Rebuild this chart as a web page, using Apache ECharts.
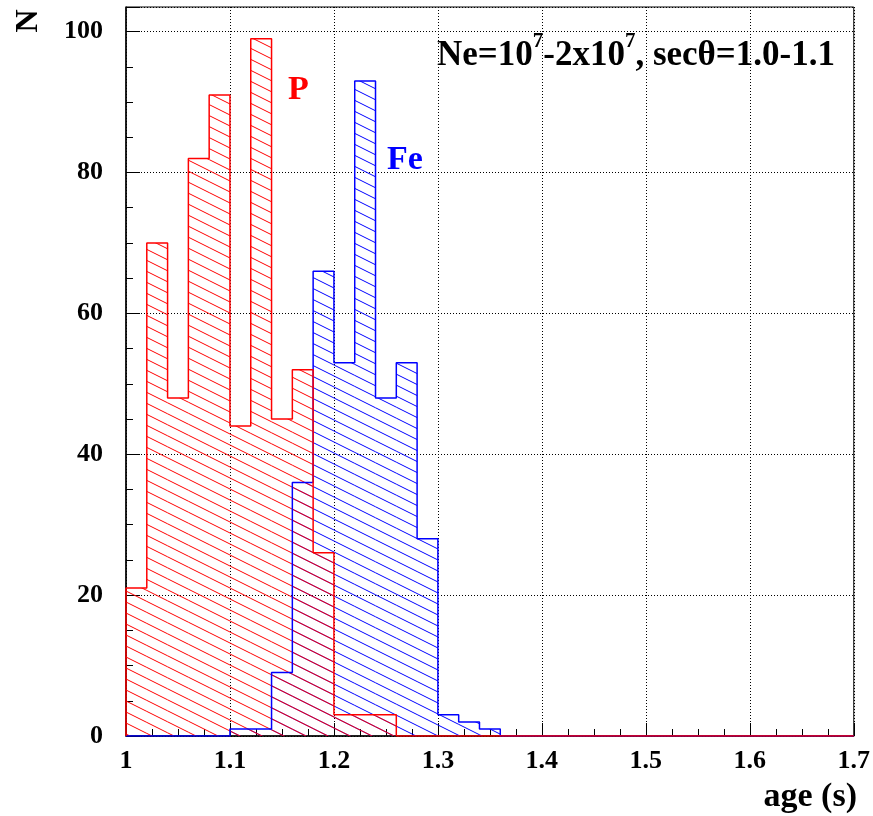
<!DOCTYPE html>
<html>
<head>
<meta charset="utf-8">
<script src="https://cdn.jsdelivr.net/npm/echarts@6/dist/echarts.min.js"></script>
<style>
  html, body { margin: 0; padding: 0; background: #fff; }
  #chart { width: 873px; height: 816px; }
</style>
</head>
<body>
<div id="chart"></div>
<script>
// Histogram binning: 35 bins of width 0.02 between age 1.0 and 1.7
const binLow = 1.0;
const binWidth = 0.02;

// Counts per bin (bins 1.00-1.02, 1.02-1.04, ...)
const protonCounts = [21, 70, 48, 82, 91, 44, 99, 45, 52, 26, 3, 3, 3, 0, 0, 0, 0, 0,
                      0, 0, 0, 0, 0, 0, 0, 0, 0, 0, 0, 0, 0, 0, 0, 0, 0];
const ironCounts   = [0, 0, 0, 0, 0, 1, 1, 9, 36, 66, 53, 93, 48, 53, 28, 3, 2, 1,
                      0, 0, 0, 0, 0, 0, 0, 0, 0, 0, 0, 0, 0, 0, 0, 0, 0];

const xTicks = [1, 1.1, 1.2, 1.3, 1.4, 1.5, 1.6, 1.7];
const yTicks = [0, 20, 40, 60, 80, 100];

const FONT = '"Liberation Serif", "Times New Roman", serif';
const RED = '#ff0000';
const BLUE = '#0000ff';

function edge(i) { return +(binLow + i * binWidth).toFixed(4); }

// Hatch fill: thin parallel lines falling to the right (slope h/w)
function hatch(color) {
  const w = 22, h = 11;
  const c = document.createElement('canvas');
  c.width = w; c.height = h;
  const g = c.getContext('2d');
  g.strokeStyle = color;
  g.lineWidth = 1;
  for (let k = -2; k <= 2; k++) {
    g.beginPath();
    g.moveTo(-w, -h + k * h);
    g.lineTo(2 * w, 2 * h + k * h);
    g.stroke();
  }
  return { image: c, repeat: 'repeat' };
}

function barItems(counts) {
  return counts.map((v, i) => [edge(i), edge(i + 1), v]);
}

// Step outline of a histogram, including the baseline after the last bin
function outline(counts) {
  const pts = [[edge(0), 0]];
  counts.forEach((v, i) => {
    pts.push([edge(i), v]);
    pts.push([edge(i + 1), v]);
  });
  pts.push([edge(counts.length), 0]);
  return pts;
}

function fillSeries(name, counts, color) {
  const pattern = hatch(color);
  return {
    name: name,
    type: 'custom',
    data: barItems(counts),
    encode: { x: [0, 1], y: 2 },
    clip: true,
    silent: true,
    renderItem: function (params, api) {
      const v = api.value(2);
      if (!v) return null;
      const p0 = api.coord([api.value(0), v]);
      const p1 = api.coord([api.value(1), 0]);
      return {
        type: 'rect',
        shape: { x: p0[0], y: p0[1], width: p1[0] - p0[0], height: p1[1] - p0[1] },
        style: { fill: pattern, stroke: null }
      };
    }
  };
}

function lineSeries(name, counts, color) {
  return {
    name: name,
    type: 'line',
    data: outline(counts),
    showSymbol: false,
    symbol: 'none',
    silent: true,
    clip: true,
    lineStyle: { color: color, width: 1.5 }
  };
}

const chart = echarts.init(document.getElementById('chart'), null, { renderer: 'canvas' });

const dotted = { color: '#000', width: 1, type: [1, 2] };

chart.setOption({
  animation: false,
  backgroundColor: '#fff',
  grid: {
    left: 126, right: 18, top: 7, bottom: 80,
    show: true, borderColor: '#000', borderWidth: 1, backgroundColor: 'transparent'
  },
  xAxis: {
    type: 'value',
    min: xTicks[0],
    max: xTicks[xTicks.length - 1],
    interval: 0.1,
    axisLine: { show: true, onZero: false, lineStyle: { color: '#000', width: 1.5 } },
    axisTick: { show: true, inside: true, length: 13, lineStyle: { color: '#000', width: 1 } },
    minorTick: { show: true, splitNumber: 4, length: 7, lineStyle: { color: '#000', width: 1 } },
    splitLine: { show: true, lineStyle: dotted },
    axisLabel: {
      margin: 12,
      color: '#000',
      fontFamily: FONT,
      fontWeight: 'bold',
      fontSize: 26,
      formatter: function (v) {
        const t = xTicks.find(x => Math.abs(x - v) < 1e-6);
        return t === undefined ? '' : String(t);
      }
    }
  },
  yAxis: [
    {
      type: 'value',
      min: 0,
      max: 103.5,
      interval: 20,
      position: 'left',
      axisLine: { show: true, onZero: false, lineStyle: { color: '#000', width: 1.5 } },
      axisTick: { show: true, inside: true, length: 14, lineStyle: { color: '#000', width: 1 } },
      splitLine: { show: true, lineStyle: dotted },
      axisLabel: {
        margin: 23,
        color: '#000',
        fontFamily: FONT,
        fontWeight: 'bold',
        fontSize: 26,
        formatter: function (v) {
          return yTicks.indexOf(v) >= 0 ? String(v) : '';
        }
      }
    },
    {
      // minor ticks every 5 counts
      type: 'value',
      min: 0,
      max: 103.5,
      interval: 5,
      position: 'left',
      offset: 0,
      axisLine: { show: false },
      axisTick: { show: true, inside: true, length: 7, lineStyle: { color: '#000', width: 1 } },
      splitLine: { show: false },
      axisLabel: { show: false }
    }
  ],
  series: [
    fillSeries('Fe', ironCounts, BLUE),
    fillSeries('P', protonCounts, RED),
    lineSeries('Fe', ironCounts, BLUE),
    lineSeries('P', protonCounts, RED)
  ],
  graphic: [
    {
      type: 'text', x: 29, y: 21, rotation: Math.PI / 2,
      style: { text: 'N', font: 'bold 32px ' + FONT, fill: '#000', align: 'center', verticalAlign: 'middle' }
    },
    {
      type: 'text', x: 437, y: 56,
      style: {
        text: 'Ne=10{sup|7}-2x10{sup|7}, secθ=1.0-1.1',
        font: 'bold 35px ' + FONT, fill: '#000', align: 'left', verticalAlign: 'middle',
        rich: {
          sup: { font: 'bold 21px ' + FONT, fill: '#000', padding: [0, 0, 28, 0] }
        }
      }
    },
    {
      type: 'text', x: 288, y: 90,
      style: { text: 'P', font: 'bold 34px ' + FONT, fill: RED, align: 'left', verticalAlign: 'middle' }
    },
    {
      type: 'text', x: 387, y: 160,
      style: { text: 'Fe', font: 'bold 34px ' + FONT, fill: BLUE, align: 'left', verticalAlign: 'middle' }
    },
    {
      type: 'text', x: 857, y: 797,
      style: { text: 'age (s)', font: 'bold 34px ' + FONT, fill: '#000', align: 'right', verticalAlign: 'middle' }
    }
  ]
});
</script>
</body>
</html>
